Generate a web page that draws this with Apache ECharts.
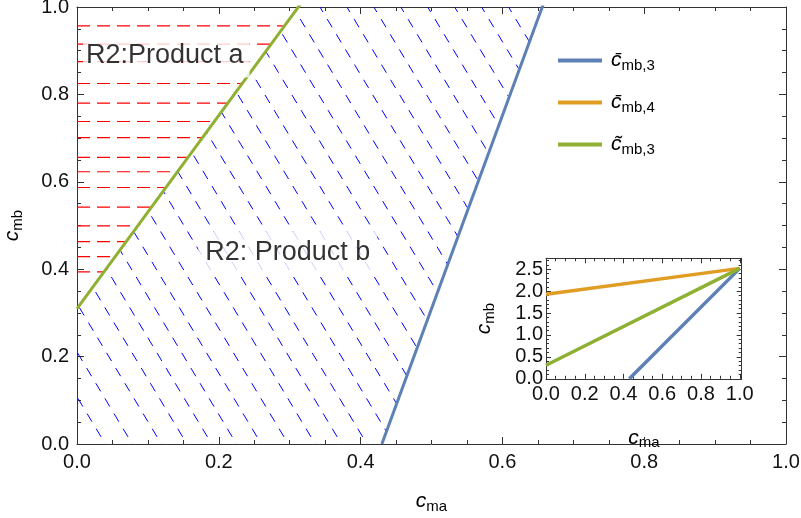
<!DOCTYPE html>
<html>
<head>
<meta charset="utf-8">
<script src="https://cdn.jsdelivr.net/npm/echarts@6/dist/echarts.min.js"></script>
<style>
html,body{margin:0;padding:0;background:#fff;}
#chart{width:801px;height:518px;}
</style>
</head>
<body>
<div id="chart"></div>
<script>
// ---------- data ----------
const cmb3BarX   = [0.43, 1.0];   // c̄_mb,3 (blue)
const cmb3BarY   = [0.0, 2.52];
const cmb4BarX   = [0.0, 1.0];    // c̄_mb,4 (orange)
const cmb4BarY   = [1.93, 2.52];
const cmb3TildeX = [0.0, 1.0];    // c̃_mb,3 (green)
const cmb3TildeY = [0.31, 2.52];

// hatching of the regions
const redHatchY = [0.957, 0.915, 0.875, 0.825, 0.780, 0.738, 0.701, 0.656, 0.623, 0.587, 0.542, 0.499, 0.463, 0.429, 0.394];
const blueHatchX0 = [0.040, 0.078, 0.119, 0.155, 0.190, 0.225, 0.260, 0.298, 0.336, 0.373, 0.409, 0.447, 0.485, 0.523, 0.561, 0.599, 0.637, 0.675, 0.713, 0.751, 0.789, 0.827, 0.865, 0.903, 0.941, 0.979];
const blueHatchSlope = 2.7;

// tick labels
const mainTickLabels  = ['0.0', '0.2', '0.4', '0.6', '0.8', '1.0'];
const insetXTickLabels = ['0.0', '0.2', '0.4', '0.6', '0.8', '1.0'];
const insetYTickLabels = ['0.0', '0.5', '1.0', '1.5', '2.0', '2.5'];

const regionLabels = ['R2:Product a', 'R2: Product b'];
const legendNames = ['cmb3bar', 'cmb4bar', 'cmb3tilde'];
const legendTexts = {
  cmb3bar:   '{o|c\u0304}{s|mb,3}',
  cmb4bar:   '{o|c\u0304}{s|mb,4}',
  cmb3tilde: '{o|c\u0303}{s|mb,3}'
};

// ---------- styles ----------
const FONT = 'Liberation Sans, Arial, sans-serif';
const BLUE = '#5E81B5', ORANGE = '#E19C24', GREEN = '#8FB032';
const FRAME = '#333';
const GRID_W = 709, GRID_H = 437;

function pts(xs, ys) { return xs.map((x, i) => [x, ys[i]]); }

const g0 = cmb3TildeY[0];
const g1 = (cmb3TildeY[1] - cmb3TildeY[0]) / (cmb3TildeX[1] - cmb3TildeX[0]);
const bx0 = cmb3BarX[0];
const b1 = (cmb3BarY[1] - cmb3BarY[0]) / (cmb3BarX[1] - cmb3BarX[0]);
const s = blueHatchSlope;

const series = [];

// red hatch: from x=0 to green boundary
redHatchY.forEach(y => {
  const xEnd = Math.min(1, (y - g0) / g1);
  series.push({
    type: 'line', xAxisIndex: 0, yAxisIndex: 0, silent: true, symbol: 'none',
    z: 1, animation: false, clip: true,
    lineStyle: { color: '#ff0000', width: 1.2, type: [13, 7] },
    data: [[0, y], [xEnd, y]]
  });
});

// blue hatch: lines y = s*(x0 - x), between green and blue boundaries
const DASH = [9.5, 8.2];
const P = DASH[0] + DASH[1];
const along = Math.sqrt(1 + Math.pow(GRID_W / (s * GRID_H), 2));
blueHatchX0.forEach(x0 => {
  const yHi = Math.min(1, s * x0, (g0 + g1 * x0) / (1 + g1 / s));
  const yLo = Math.max(0, b1 * (x0 - bx0) / (1 + b1 / s));
  if (yHi <= yLo) return;
  const v0 = (1 - yHi) * GRID_H;
  let phase = ((v0 - 12.1) * along) % P;
  if (phase < 0) phase += P;
  series.push({
    type: 'line', xAxisIndex: 0, yAxisIndex: 0, silent: true, symbol: 'none',
    z: 1, animation: false, clip: true,
    lineStyle: { color: '#0000ff', width: 1, type: DASH, dashOffset: phase },
    data: [[x0 - yHi / s, yHi], [x0 - yLo / s, yLo]]
  });
});

// boundary curves in the main plot
series.push(
  { name: 'cmb3bar', type: 'line', xAxisIndex: 0, yAxisIndex: 0, symbol: 'none', z: 3, animation: false, clip: true,
    color: BLUE, lineStyle: { color: BLUE, width: 3 }, data: pts(cmb3BarX, cmb3BarY) },
  { name: 'cmb4bar', type: 'line', xAxisIndex: 0, yAxisIndex: 0, symbol: 'none', z: 3, animation: false, clip: true,
    color: ORANGE, lineStyle: { color: ORANGE, width: 3 }, data: pts(cmb4BarX, cmb4BarY) },
  { name: 'cmb3tilde', type: 'line', xAxisIndex: 0, yAxisIndex: 0, symbol: 'none', z: 3, animation: false, clip: true,
    color: GREEN, lineStyle: { color: GREEN, width: 3 }, data: pts(cmb3TildeX, cmb3TildeY) }
);

// inset curves
series.push(
  { name: 'cmb3bar', type: 'line', xAxisIndex: 2, yAxisIndex: 2, symbol: 'none', z: 3, animation: false, clip: true,
    color: BLUE, lineStyle: { color: BLUE, width: 3.5 }, data: pts(cmb3BarX, cmb3BarY) },
  { name: 'cmb4bar', type: 'line', xAxisIndex: 2, yAxisIndex: 2, symbol: 'none', z: 3, animation: false, clip: true,
    color: ORANGE, lineStyle: { color: ORANGE, width: 3.5 }, data: pts(cmb4BarX, cmb4BarY) },
  { name: 'cmb3tilde', type: 'line', xAxisIndex: 2, yAxisIndex: 2, symbol: 'none', z: 3, animation: false, clip: true,
    color: GREEN, lineStyle: { color: GREEN, width: 3.5 }, data: pts(cmb3TildeX, cmb3TildeY) }
);

// region labels (white boxes)
function regionLabel(text, x, y, pad) {
  return {
    type: 'scatter', xAxisIndex: 0, yAxisIndex: 0, silent: true, z: 10, animation: false,
    symbolSize: 0, data: [[x, y]],
    label: {
      show: true, position: 'inside', align: 'left', verticalAlign: 'middle',
      formatter: text, fontFamily: FONT, fontSize: 27, color: '#000',
      backgroundColor: '#fff', padding: pad
    }
  };
}
series.push(regionLabel(regionLabels[0], 0.0085, 0.888, [8, 6, 8, 3]));
series.push(regionLabel(regionLabels[1], 0.171, 0.437, [8, 7, 8, 7]));

function axisName(sub) {
  return '{i|c}{s|' + sub + '}';
}
const nameRich = {
  i: { fontFamily: FONT, fontStyle: 'italic', fontSize: 21, color: '#000' },
  s: { fontFamily: FONT, fontSize: 15, color: '#000', padding: [10, 0, 0, 0] }
};

function frameAxis(common) {
  return Object.assign({
    type: 'value',
    axisLine: { show: true, onZero: false, lineStyle: { color: FRAME, width: 1 } },
    axisTick: { show: true, inside: true, length: 7, lineStyle: { color: FRAME } },
    minorTick: { show: true, splitNumber: 4, length: 4, lineStyle: { color: FRAME } },
    splitLine: { show: false },
    axisLabel: { show: false }
  }, common);
}
const mainLabel = {
  show: true, fontFamily: FONT, fontSize: 20, color: '#111',
  formatter: v => { const i = Math.round(v / 0.2); return Math.abs(v - i * 0.2) < 1e-6 ? mainTickLabels[i] : ''; }
};

const option = {
  backgroundColor: '#fff',
  animation: false,
  grid: [
    { left: 77, top: 7, width: GRID_W, height: GRID_H, containLabel: false, outerBoundsMode: 'none' },
    { left: 546, top: 258.3, width: 195.7, height: 120.5, containLabel: false, outerBoundsMode: 'none' }
  ],
  legend: {
    data: legendNames,
    orient: 'vertical', left: 553, top: 45,
    icon: 'rect', itemWidth: 44, itemHeight: 4, itemGap: 19,
    selectedMode: false,
    formatter: n => legendTexts[n],
    textStyle: {
      rich: {
        o: { fontFamily: FONT, fontStyle: 'italic', fontSize: 21, color: '#000', padding: [0, 0, 0, 4], lineHeight: 24 },
        s: { fontFamily: FONT, fontSize: 15, color: '#000', padding: [10, 0, 0, 0] }
      }
    }
  },
  xAxis: [
    frameAxis({ gridIndex: 0, position: 'bottom', min: 0, max: 1, interval: 0.2,
      axisLabel: Object.assign({ margin: 8 }, mainLabel),
      name: axisName('ma'), nameLocation: 'middle', nameGap: 45,
      nameTextStyle: { rich: nameRich } }),
    frameAxis({ gridIndex: 0, position: 'top', min: 0, max: 1, interval: 0.2 }),
    frameAxis({ gridIndex: 1, position: 'bottom', min: 0, max: 1.01, interval: 0.2,
      axisTick: { show: true, inside: true, length: 5, lineStyle: { color: FRAME } },
      minorTick: { show: true, splitNumber: 4, length: 3, lineStyle: { color: FRAME } },
      axisLabel: { show: true, fontFamily: FONT, fontSize: 20, color: '#111', margin: 6, showMaxLabel: false,
        formatter: v => { const i = Math.round(v / 0.2); return Math.abs(v - i * 0.2) < 1e-6 ? insetXTickLabels[i] : ''; } },
      name: axisName('ma'), nameLocation: 'middle', nameGap: 47,
      nameTextStyle: { rich: nameRich } }),
    frameAxis({ gridIndex: 1, position: 'top', min: 0, max: 1.01, interval: 0.2,
      axisTick: { show: true, inside: true, length: 5, lineStyle: { color: FRAME } },
      minorTick: { show: true, splitNumber: 4, length: 3, lineStyle: { color: FRAME } } })
  ],
  yAxis: [
    frameAxis({ gridIndex: 0, position: 'left', min: 0, max: 1, interval: 0.2,
      axisLabel: Object.assign({ margin: 8 }, mainLabel),
      name: axisName('mb'), nameLocation: 'middle', nameGap: 52, nameRotate: 90,
      nameTextStyle: { rich: nameRich } }),
    frameAxis({ gridIndex: 0, position: 'right', min: 0, max: 1, interval: 0.2 }),
    frameAxis({ gridIndex: 1, position: 'left', min: 0, max: 2.75, interval: 0.5,
      axisTick: { show: true, inside: true, length: 5, lineStyle: { color: FRAME } },
      minorTick: { show: true, splitNumber: 5, length: 3, lineStyle: { color: FRAME } },
      axisLabel: { show: true, fontFamily: FONT, fontSize: 20, color: '#111', margin: 3, showMaxLabel: false,
        formatter: v => { const i = Math.round(v / 0.5); return Math.abs(v - i * 0.5) < 1e-6 ? insetYTickLabels[i] : ''; } },
      name: axisName('mb'), nameLocation: 'middle', nameGap: 49, nameRotate: 90,
      nameTextStyle: { rich: nameRich } }),
    frameAxis({ gridIndex: 1, position: 'right', min: 0, max: 2.75, interval: 0.5,
      axisTick: { show: true, inside: true, length: 5, lineStyle: { color: FRAME } },
      minorTick: { show: true, splitNumber: 5, length: 3, lineStyle: { color: FRAME } } })
  ],
  series: series
};

const chart = echarts.init(document.getElementById('chart'), null, { renderer: 'canvas' });
chart.setOption(option);
</script>
</body>
</html>
